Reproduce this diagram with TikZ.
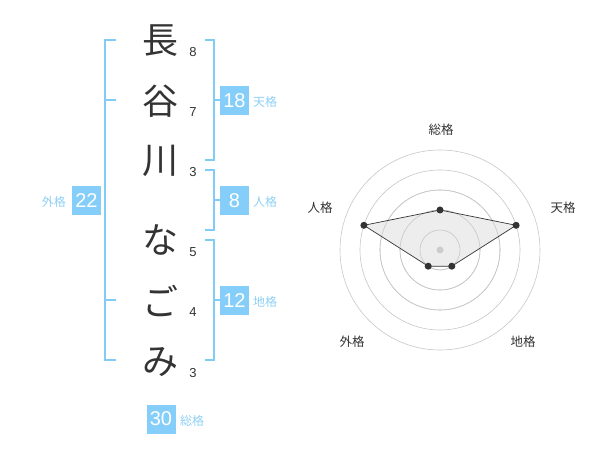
\documentclass[tikz,border=0pt]{standalone}
\usepackage{fontspec}
\setmainfont{Noto Sans CJK JP}
\newfontfamily\numfont{Liberation Sans}
\definecolor{kblue}{HTML}{80CCF6}
\definecolor{kbox}{HTML}{86CEFA}
\definecolor{ktext}{HTML}{8ED0F4}
\definecolor{kdark}{HTML}{333333}
\begin{document}
\begin{tikzpicture}[x=1pt,y=-1pt,
  kanji/.style={font=\fontsize{36}{36}\selectfont, text=kdark, inner sep=0},
  strokes/.style={font=\numfont\fontsize{13}{13}\selectfont, text=kdark, inner sep=0},
  valbox/.style={fill=kbox, text=white, minimum size=29pt, inner sep=0, font=\numfont\fontsize{20}{20}\selectfont},
  kaku/.style={text=ktext, font=\fontsize{12}{12}\selectfont, inner sep=0},
  brk/.style={draw=kblue, line width=2pt},
  ring/.style={draw=black!22, line width=0.6pt},
  axlabel/.style={font=\fontsize{12.5}{12.5}\selectfont, text=kdark, inner sep=0},
  pt/.style={circle, fill=kdark, inner sep=0, minimum size=7pt},
]
\useasboundingbox (0,0) rectangle (600,470);
% name characters
\node[kanji] (c1) at (160,41) {長};
\node[kanji] (c2) at (160,101) {谷};
\node[kanji] (c3) at (160,161) {川};
\node[kanji] (c4) at (160,240) {な};
\node[kanji] (c5) at (160,301) {ご};
\node[kanji] (c6) at (160,362) {み};
% stroke counts
\node[strokes] (n1) at (193,52) {8};
\node[strokes] (n2) at (193,112) {7};
\node[strokes] (n3) at (193,172) {3};
\node[strokes] (n4) at (193,252) {5};
\node[strokes] (n5) at (193,312) {4};
\node[strokes] (n6) at (193,373) {3};
% brackets
\draw[brk] (116,40) -- (105,40) -- (105,360) -- (116,360);
\draw[brk] (105,100) -- (116,100);
\draw[brk] (105,300) -- (116,300);
\draw[brk] (205,40) -- (214,40) -- (214,160) -- (205,160);
\draw[brk] (214,100) -- (220,100);
\draw[brk] (205,170) -- (214,170) -- (214,230) -- (205,230);
\draw[brk] (214,200) -- (220,200);
\draw[brk] (205,240) -- (214,240) -- (214,360) -- (205,360);
\draw[brk] (214,300) -- (220,300);
% value boxes
\node[valbox] (ten) at (234.5,100.5) {18};
\node[kaku, anchor=west] (tenl) at (253,102) {天格};
\node[valbox] (jin) at (234.5,200.5) {8};
\node[kaku, anchor=west] (jinl) at (253,202) {人格};
\node[valbox] (chi) at (234.5,300.5) {12};
\node[kaku, anchor=west] (chil) at (253,302) {地格};
\node[valbox] (gai) at (86.5,200.5) {22};
\node[kaku, anchor=east] (gail) at (66,202) {外格};
\node[valbox] (sou) at (161,419) {30};
\node[kaku, anchor=west] (soul) at (180,421) {総格};
% radar chart
\coordinate (ctr) at (440,250);
\foreach \r in {20,40,60,80,100} \draw[ring] (ctr) circle (\r);
\path (ctr) ++(0,-40) coordinate (pS);
\path (ctr) ++(76.1,-24.7) coordinate (pT);
\path (ctr) ++(11.8,16.2) coordinate (pC);
\path (ctr) ++(-11.8,16.2) coordinate (pG);
\path (ctr) ++(-76.1,-24.7) coordinate (pJ);
\fill[black!7] (pS) -- (pT) -- (pC) -- (pG) -- (pJ) -- cycle;
\draw[ring] (ctr) circle (20) (ctr) circle (40) (ctr) circle (60);
\draw[kdark, line width=0.7pt] (pS) -- (pT) -- (pC) -- (pG) -- (pJ) -- cycle;
\fill[black!20] (ctr) circle (3.5);
\foreach \p in {pS,pT,pC,pG,pJ} \node[pt] at (\p) {};
\node[axlabel] (lS) at (441,130) {総格};
\node[axlabel] (lT) at (563,208) {天格};
\node[axlabel] (lC) at (523,342) {地格};
\node[axlabel] (lG) at (352,342) {外格};
\node[axlabel] (lJ) at (320,208) {人格};
\end{tikzpicture}
\end{document}
